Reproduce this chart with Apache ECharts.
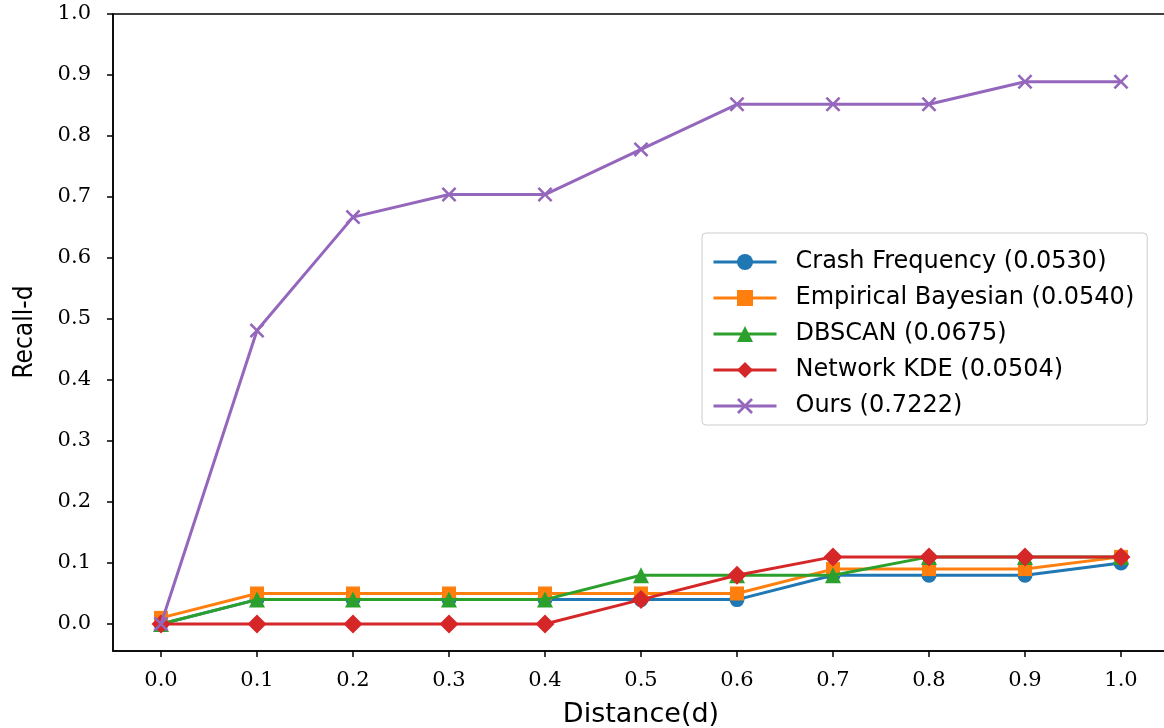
<!DOCTYPE html>
<html>
<head>
<meta charset="utf-8">
<script src="https://cdn.jsdelivr.net/npm/echarts@6/dist/echarts.min.js"></script>
<style>
  html, body { margin: 0; padding: 0; background: #fff; }
  #chart { width: 1164px; height: 728px; }
</style>
</head>
<body>
<div id="chart"></div>
<script>
// distance thresholds on the x axis
const distances = [0.0, 0.1, 0.2, 0.3, 0.4, 0.5, 0.6, 0.7, 0.8, 0.9, 1.0]
const xTicks = [0.0, 0.1, 0.2, 0.3, 0.4, 0.5, 0.6, 0.7, 0.8, 0.9, 1.0]
const yTicks = [0.0, 0.1, 0.2, 0.3, 0.4, 0.5, 0.6, 0.7, 0.8, 0.9, 1.0]

// recall-d per method
const crashFreq = [0.0, 0.04, 0.04, 0.04, 0.04, 0.04, 0.04, 0.08, 0.08, 0.08, 0.10]
const empBayes = [0.01, 0.05, 0.05, 0.05, 0.05, 0.05, 0.05, 0.09, 0.09, 0.09, 0.11]
const dbscan = [0.0, 0.04, 0.04, 0.04, 0.04, 0.08, 0.08, 0.08, 0.11, 0.11, 0.11]
const netKde = [0.0, 0.0, 0.0, 0.0, 0.0, 0.04, 0.08, 0.11, 0.11, 0.11, 0.11]
const ours = [0.0, 0.481, 0.667, 0.704, 0.704, 0.778, 0.852, 0.852, 0.852, 0.889, 0.889]

const seriesNames = [
  'Crash Frequency (0.0530)',
  'Empirical Bayesian (0.0540)',
  'DBSCAN (0.0675)',
  'Network KDE (0.0504)',
  'Ours (0.7222)'
]

const colors = ['#1f77b4', '#ff7f0e', '#2ca02c', '#d62728', '#9467bd']
const xMark = 'path://M0,1.2 L1.2,0 L5,3.8 L8.8,0 L10,1.2 L6.2,5 L10,8.8 L8.8,10 L5,6.2 L1.2,10 L0,8.8 L3.8,5 Z'
const symbols = ['circle', 'rect', 'triangle', 'diamond', xMark]
const symbolSizes = [15, 14, 16, 19, 15]

const serifFont = '"DejaVu Serif", "Liberation Serif", serif'
const sansFont = '"DejaVu Sans", "Noto Sans", sans-serif'
const narrowFont = '"DejaVu Sans Condensed", "DejaVu Sans", sans-serif'

const allData = [crashFreq, empBayes, dbscan, netKde, ours]

const chart = echarts.init(document.getElementById('chart'), null, { renderer: 'canvas' })

const option = {
  backgroundColor: '#ffffff',
  animation: false,
  color: colors,
  grid: {
    left: 113, top: 14, width: 1056, height: 637,
    outerBoundsMode: 'none',
    show: true, borderColor: '#000', borderWidth: 1.5,
    containLabel: false
  },
  legend: {
    orient: 'vertical',
    left: 702,
    top: 233,
    padding: [16, 13, 6, 10],
    itemWidth: 63,
    itemHeight: 20,
    itemGap: 10,
    backgroundColor: 'rgba(255,255,255,0.8)',
    borderColor: '#cccccc',
    borderWidth: 1,
    borderRadius: 4,
    lineStyle: { width: 3 },
    textStyle: { fontFamily: sansFont, fontSize: 24, color: '#000', padding: [0, 0, 0, 14], lineHeight: 26 },
    data: seriesNames
  },
  xAxis: {
    type: 'value',
    min: -0.05,
    max: 1.05,
    splitLine: { show: false },
    axisLine: { onZero: false, lineStyle: { color: '#000', width: 1.5 } },
    axisTick: { show: true, length: 6, lineStyle: { color: '#000', width: 1.5 }, customValues: xTicks },
    axisLabel: {
      customValues: xTicks,
      margin: 19,
      color: '#000',
      fontFamily: serifFont,
      fontSize: 21,
      formatter: (v) => v.toFixed(1)
    },
    name: 'Distance(d)',
    nameLocation: 'middle',
    nameGap: 50,
    nameTextStyle: { fontFamily: sansFont, fontSize: 27, color: '#000' }
  },
  yAxis: {
    type: 'value',
    min: -0.0443,
    max: 1.0,
    splitLine: { show: false },
    axisLine: { onZero: false, lineStyle: { color: '#000', width: 1.5 } },
    axisTick: { show: true, length: 6, lineStyle: { color: '#000', width: 1.5 }, customValues: yTicks },
    axisLabel: {
      customValues: yTicks,
      margin: 22,
      color: '#000',
      fontFamily: serifFont,
      fontSize: 21,
      formatter: (v) => v.toFixed(1)
    }
  },
  graphic: [
    {
      type: 'text',
      x: 25,
      y: 332,
      rotation: Math.PI / 2,
      style: {
        text: 'Recall-d',
        fill: '#000',
        font: '26px ' + narrowFont,
        align: 'center',
        verticalAlign: 'middle'
      }
    }
  ],
  series: seriesNames.map((name, i) => ({
    name,
    type: 'line',
    data: distances.map((d, j) => [d, allData[i][j]]),
    symbol: symbols[i],
    symbolSize: symbolSizes[i],
    showAllSymbol: true,
    lineStyle: { width: 3, color: colors[i] },
    itemStyle: { color: colors[i], borderWidth: 0 },
    emphasis: { disabled: true },
    z: 2 + i
  }))
}

chart.setOption(option)
</script>
</body>
</html>
